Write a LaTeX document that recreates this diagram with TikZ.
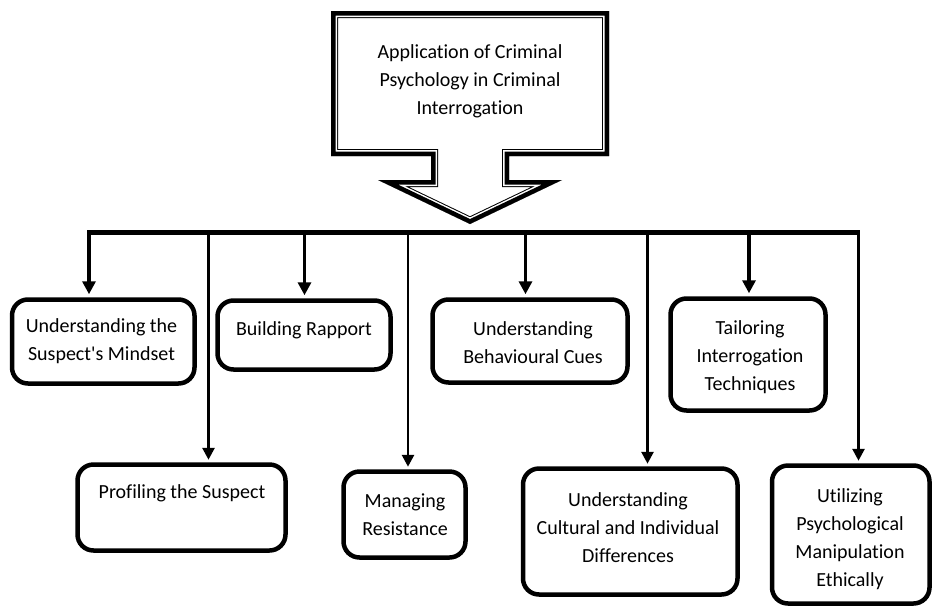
\documentclass[tikz,border=0pt]{standalone}
\usepackage{fontspec}
\setmainfont[Ligatures={TeX,NoCommon}]{Carlito}
\usetikzlibrary{arrows.meta}
\begin{document}
\begin{tikzpicture}[x=1pt,y=-1pt,
  card/.style={draw, line width=4.5pt, rounded corners=16pt, inner sep=0pt, fill=white},
  cardtext/.style={align=center, inner sep=0pt, font=\fontsize{20}{28}\selectfont},
  feed/.style={line width=3.6pt, -{Triangle[width=13pt,length=13pt]}, shorten >=3pt},
  longfeed/.style={line width=2.8pt, -{Triangle[width=12pt,length=12pt]}, shorten >=2.5pt},
  bus/.style={line width=4.5pt}
]
\fill[white] (0,0) rectangle (934,606);
\useasboundingbox (0,0) rectangle (934,606);

% heading callout: box with a downward arrow, thick outer rule and thin inner rule
\def\calloutpath{(331,11) -- (609,11) -- (609,156) -- (509,156) -- (509,180) -- (562,180) -- (470,224) -- (378,180) -- (431,180) -- (431,156) -- (331,156) -- cycle}
\begin{scope}
  \clip \calloutpath;
  \draw[line width=14pt, line join=miter] \calloutpath;
  \draw[white, line width=12pt, line join=miter] \calloutpath;
  \draw[line width=9pt, line join=miter] \calloutpath;
\end{scope}
\node[cardtext] (title) at (470,81) {Application of Criminal\\Psychology in Criminal\\Interrogation};

% topic boxes
\node[card, minimum width=182.5pt, minimum height=84pt]  (b1) at (103.25,341.5) {};
\node[card, minimum width=173pt,   minimum height=69pt]  (b2) at (304,335) {};
\node[card, minimum width=195pt,   minimum height=83pt]  (b3) at (530,341) {};
\node[card, minimum width=155pt,   minimum height=112pt] (b4) at (748,354.5) {};
\node[card, minimum width=208pt,   minimum height=86pt]  (b5) at (181.5,507.5) {};
\node[card, minimum width=122pt,   minimum height=86pt]  (b6) at (404.5,514.5) {};
\node[card, minimum width=214.5pt, minimum height=126pt] (b7) at (630.25,531.5) {};
\node[card, minimum width=157.5pt, minimum height=138pt] (b8) at (850.75,534.5) {};

\node[cardtext] (t1) at (101.5,341.5) {Understanding the\\Suspect\textquotesingle s Mindset};
\node[cardtext] (t2) at (304,330) {Building Rapport};
\node[cardtext] (t3) at (533,342.5) {Understanding\\Behavioural Cues};
\node[cardtext] (t4) at (750,357) {Tailoring\\Interrogation\\Techniques};
\node[cardtext] (t5) at (182,493) {Profiling the Suspect};
\node[cardtext] (t6) at (405,515) {Managing\\Resistance};
\node[cardtext] (t7) at (628,528) {Understanding\\Cultural and Individual\\Differences};
\node[cardtext] (t8) at (850,539) {Utilizing\\Psychological\\Manipulation\\Ethically};

% distribution bus
\coordinate (busL) at (87.2,232.5);
\coordinate (busR) at (859.9,232.5);
\draw[bus] (busL) -- (busR);

\coordinate (s1) at (89,232.5);
\coordinate (s2) at (304.5,232.5);
\coordinate (s3) at (525.5,232.5);
\coordinate (s4) at (749,232.5);
\coordinate (s5) at (208.5,232.5);
\coordinate (s6) at (408,232.5);
\coordinate (s7) at (647.5,232.5);
\coordinate (s8) at (858.5,232.5);

\draw[feed] (s1) -- (s1 |- b1.north);
\draw[feed] (s2) -- (s2 |- b2.north);
\draw[feed] (s3) -- (s3 |- b3.north);
\draw[feed] (s4) -- (s4 |- b4.north);
\draw[longfeed] (s5) -- (s5 |- b5.north);
\draw[longfeed] (s6) -- (s6 |- b6.north);
\draw[longfeed] (s7) -- (s7 |- b7.north);
\draw[longfeed] (s8) -- (s8 |- b8.north);
\end{tikzpicture}
\end{document}
